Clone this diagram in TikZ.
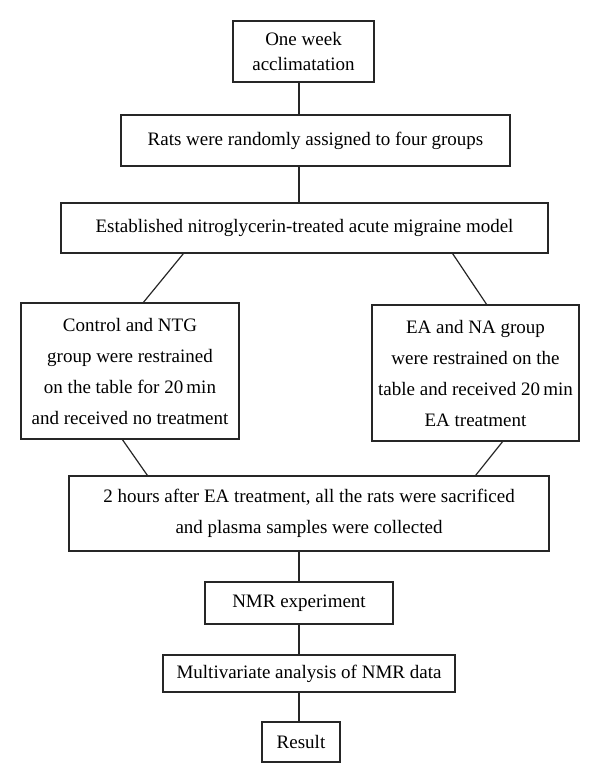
\documentclass[tikz,border=0pt]{standalone}
\usepackage{fontspec}
\setmainfont{Liberation Serif}
\begin{document}
\begin{tikzpicture}[x=1pt,y=-1pt,
  boxstyle/.style={draw=black!85, line width=1.2pt, inner sep=0pt, align=center,
    font=\fontsize{19}{31}\selectfont, anchor=center},
  linkstyle/.style={draw=black!85, line width=1.2pt}]
\useasboundingbox (0,0) rectangle (600,783);
\node[boxstyle, minimum width=141pt, minimum height=61pt, font=\fontsize{19}{25}\selectfont] (b1) at (303.5,51.5) {One week\\acclimatation};
\node[boxstyle, minimum width=389pt, minimum height=51pt] (b2) at (315.5,140.5) {Rats were randomly assigned to four groups};
\node[boxstyle, minimum width=487pt, minimum height=50pt] (b3) at (304.5,228) {Established nitroglycerin-treated acute migraine model};
\node[boxstyle, minimum width=218pt, minimum height=136pt] (b4) at (130,371) {Control and NTG\\group were restrained\\on the table for 20\,min\\and received no treatment};
\node[boxstyle, minimum width=207pt, minimum height=136pt] (b5) at (475.5,373) {EA and NA group\\were restrained on the\\table and received 20\,min\\EA treatment};
\node[boxstyle, minimum width=480pt, minimum height=75pt] (b6) at (309,513.5) {2 hours after EA treatment, all the rats were sacrificed\\and plasma samples were collected};
\node[boxstyle, minimum width=188pt, minimum height=42pt] (b7) at (299,603) {NMR experiment};
\node[boxstyle, minimum width=292pt, minimum height=37pt] (b8) at (309,673.5) {Multivariate analysis of NMR data};
\node[boxstyle, minimum width=78pt, minimum height=40pt] (b9) at (301,742) {Result};
\coordinate (axis) at (299,0);
\draw[linkstyle] (b1.south -| axis) -- (b2.north -| axis);
\draw[linkstyle] (b2.south -| axis) -- (b3.north -| axis);
\draw[linkstyle] ([xshift=123pt]b3.south west) -- ([xshift=123pt]b4.north west);
\draw[linkstyle] ([xshift=-96pt]b3.south east) -- ([xshift=-93pt]b5.north east);
\draw[linkstyle] ([xshift=102pt]b4.south west) -- ([xshift=79pt]b6.north west);
\draw[linkstyle] ([xshift=-77pt]b5.south east) -- ([xshift=-74pt]b6.north east);
\draw[linkstyle] (b6.south -| axis) -- (b7.north -| axis);
\draw[linkstyle] (b7.south -| axis) -- (b8.north -| axis);
\draw[linkstyle] (b8.south -| axis) -- (b9.north -| axis);
\end{tikzpicture}
\end{document}
